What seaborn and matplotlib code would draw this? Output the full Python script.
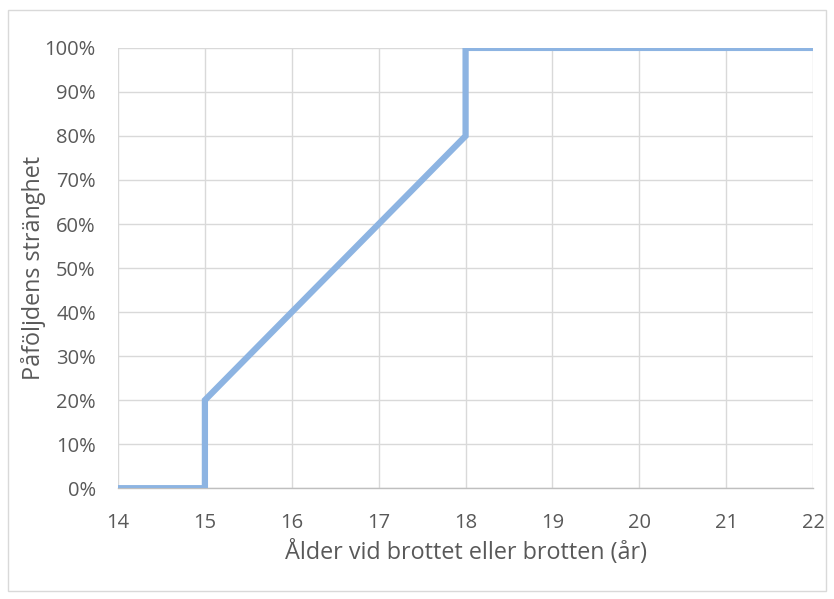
import matplotlib
matplotlib.use("Agg")
import matplotlib.pyplot as plt
import seaborn as sns
import pandas as pd
from matplotlib.ticker import PercentFormatter
from matplotlib.patches import Rectangle

# age at offence vs severity of sanction
age = [14, 15, 15, 18, 18, 22]
severity = [0.0, 0.0, 0.2, 0.8, 1.0, 1.0]
x_ticks = [14, 15, 16, 17, 18, 19, 20, 21, 22]
y_ticks = [0, 0.1, 0.2, 0.3, 0.4, 0.5, 0.6, 0.7, 0.8, 0.9, 1.0]

df = pd.DataFrame({"age": age, "severity": severity})

sns.set_style("white")
plt.rcParams['font.family'] = ['Open Sans', 'DejaVu Sans']

fig = plt.figure(figsize=(8.34, 5.99), dpi=100)
ax = fig.add_axes([0.1415, 0.185, 0.8335, 0.735])

text_col = "#595959"
grid_col = "#d9d9d9"

sns.lineplot(data=df, x="age", y="severity", ax=ax, sort=False, estimator=None,
             color="#8db4e2", linewidth=4.5, solid_joinstyle="miter", zorder=3)

ax.set_xlim(14, 22)
ax.set_ylim(0, 1.0)
ax.set_xticks(x_ticks)
ax.set_yticks(y_ticks)
ax.yaxis.set_major_formatter(PercentFormatter(1.0, decimals=0))
ax.grid(True, color=grid_col, linewidth=1.0, zorder=0)
ax.set_axisbelow(True)
for s in ["top", "left", "right"]:
    ax.spines[s].set_visible(False)
ax.spines["bottom"].set_color("#bfbfbf")
ax.spines["bottom"].set_linewidth(1.0)
ax.tick_params(axis="both", length=0, labelsize=14.5, colors=text_col)
ax.tick_params(axis="x", pad=18)
ax.tick_params(axis="y", pad=16)

ax.set_xlabel("Ålder vid brottet eller brotten (år)", fontsize=16.8, color=text_col, va="center")
ax.set_ylabel("Påföljdens stränghet", fontsize=16.8, color=text_col, va="center")
ax.xaxis.set_label_coords(0.5, -0.145)
ax.yaxis.set_label_coords(-0.122, 0.5)

fig.patches.append(Rectangle((0.009, 0.013), 0.982, 0.97, transform=fig.transFigure,
                             fill=False, edgecolor="#d9d9d9", linewidth=1.0))

fig.savefig("out.png", dpi=100, facecolor="white")
